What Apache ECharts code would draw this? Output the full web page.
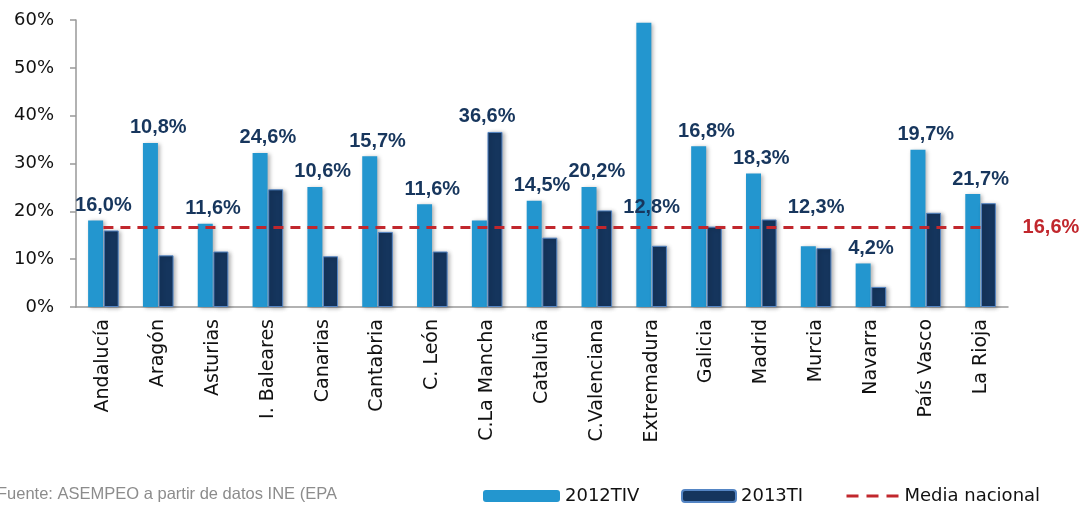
<!DOCTYPE html>
<html>
<head>
<meta charset="utf-8">
<script src="https://cdn.jsdelivr.net/npm/echarts@6/dist/echarts.min.js"></script>
<style>
  html, body { margin: 0; padding: 0; background: #fff; }
  #chart { width: 1089px; height: 505px; }
</style>
</head>
<body>
<div id="chart"></div>
<script>
// datos
const regiones = ['Andalucía', 'Aragón', 'Asturias', 'I. Baleares', 'Canarias', 'Cantabria', 'C. León',
    'C.La Mancha', 'Cataluña', 'C.Valenciana', 'Extremadura', 'Galicia', 'Madrid', 'Murcia',
    'Navarra', 'País Vasco', 'La Rioja'];
const valores2012TIV = [18.1, 34.3, 17.4, 32.2, 25.1, 31.5, 21.5, 18.1, 22.2, 25.1, 59.4, 33.6, 27.9, 12.7, 9.1, 32.9, 23.6];
const valores2013TI = [16.0, 10.8, 11.6, 24.6, 10.6, 15.7, 11.6, 36.6, 14.5, 20.2, 12.8, 16.8, 18.3, 12.3, 4.2, 19.7, 21.7];
const mediaNacional = 16.6;
const yTicks = [0, 10, 20, 30, 40, 50, 60];

const AZUL_CLARO = '#2396CF';
const AZUL_OSCURO = '#15355D';
const ROJO = '#C1272D';

function fmt(v) {
    return v.toFixed(1).replace('.', ',') + '%';
}

const chart = echarts.init(document.getElementById('chart'));

// el rótulo va encima de la barra más alta; si cae sobre la media, se sube por encima
const rotulos = regiones.map((r, i) => {
    const a = valores2012TIV[i], b = valores2013TI[i];
    let ancla = a > 40 ? b : Math.max(a, b);
    if (ancla < mediaNacional && ancla > mediaNacional - 5) ancla = mediaNacional + 1;
    return [i, ancla, valores2013TI[i]];
});

const legendText = { fontFamily: 'DejaVu Sans', fontSize: 18, color: '#111' };

const option = {
    animation: false,
    backgroundColor: '#fff',
    grid: { left: 76, right: 81, top: 20, bottom: 198 },
    legend: [
        { data: ['2012TIV'], left: 483, top: 487, itemWidth: 77, itemHeight: 12, itemGap: 0, textStyle: legendText, padding: 0 },
        { data: ['2013TI'], left: 681, top: 487, itemWidth: 54, itemHeight: 12, itemGap: 0, textStyle: legendText, padding: 0 },
        {
            data: ['Media nacional'], left: 845, top: 487, itemWidth: 53, itemHeight: 12, itemGap: 0,
            textStyle: legendText, padding: 0,
            itemStyle: { opacity: 0 },
            lineStyle: { color: ROJO, width: 3, type: [12, 8] }
        }
    ],
    graphic: [{
        type: 'text',
        left: -3,
        top: 486,
        style: {
            text: 'Fuente: ASEMPEO a partir de datos INE (EPA',
            fill: '#8c8c8c',
            font: '16.5px "Liberation Sans"'
        }
    }],
    xAxis: {
        type: 'category',
        data: regiones,
        axisLine: { lineStyle: { color: '#999', width: 1.5 } },
        axisTick: { length: 7, lineStyle: { color: '#999', width: 1.5 } },
        axisLabel: {
            rotate: 90,
            margin: 12,
            interval: 0,
            fontFamily: 'DejaVu Sans',
            fontSize: 19,
            color: '#111'
        }
    },
    yAxis: {
        type: 'value',
        min: yTicks[0],
        max: yTicks[yTicks.length - 1],
        interval: 10,
        axisLine: { show: true, lineStyle: { color: '#999', width: 1.5 } },
        axisTick: { show: true, length: 6, lineStyle: { color: '#999', width: 1.5 } },
        splitLine: { show: false },
        axisLabel: {
            formatter: '{value}%',
            margin: 22,
            fontFamily: 'DejaVu Sans',
            fontSize: 18,
            color: '#111'
        }
    },
    series: [
        {
            name: '2012TIV',
            type: 'bar',
            data: valores2012TIV,
            barWidth: 15,
            barGap: '4%',
            barCategoryGap: '43%',
            itemStyle: {
                color: AZUL_CLARO,
                shadowColor: 'rgba(0,0,0,0.3)',
                shadowBlur: 4,
                shadowOffsetX: 2,
                shadowOffsetY: 1
            }
        },
        {
            name: '2013TI',
            type: 'bar',
            data: valores2013TI,
            barWidth: 15,
            itemStyle: {
                color: AZUL_OSCURO,
                borderColor: '#5485C4',
                borderWidth: 1,
                shadowColor: 'rgba(0,0,0,0.3)',
                shadowBlur: 4,
                shadowOffsetX: 2,
                shadowOffsetY: 1
            }
        },
        {
            name: 'Media nacional',
            type: 'line',
            data: regiones.map(() => mediaNacional),
            symbol: 'none',
            z: 5,
            lineStyle: { color: ROJO, width: 3, type: [10, 7] },
            itemStyle: { color: ROJO },
            endLabel: {
                show: true,
                distance: 42,
                formatter: () => fmt(mediaNacional),
                color: ROJO,
                fontFamily: 'Liberation Sans',
                fontWeight: 'bold',
                fontSize: 20
            }
        },
        {
            name: 'rotulos',
            type: 'custom',
            data: rotulos,
            z: 6,
            renderItem: (params, api) => {
                const p = api.coord([api.value(0), api.value(1)]);
                return {
                    type: 'text',
                    style: {
                        text: fmt(api.value(2)),
                        x: p[0],
                        y: p[1] - 15,
                        align: 'center',
                        verticalAlign: 'middle',
                        fill: '#17365D',
                        font: 'bold 20px "Liberation Sans"'
                    }
                };
            }
        }
    ]
};

chart.setOption(option);

window.addEventListener('resize', () => {
    chart.resize();
});
</script>
</body>
</html>
